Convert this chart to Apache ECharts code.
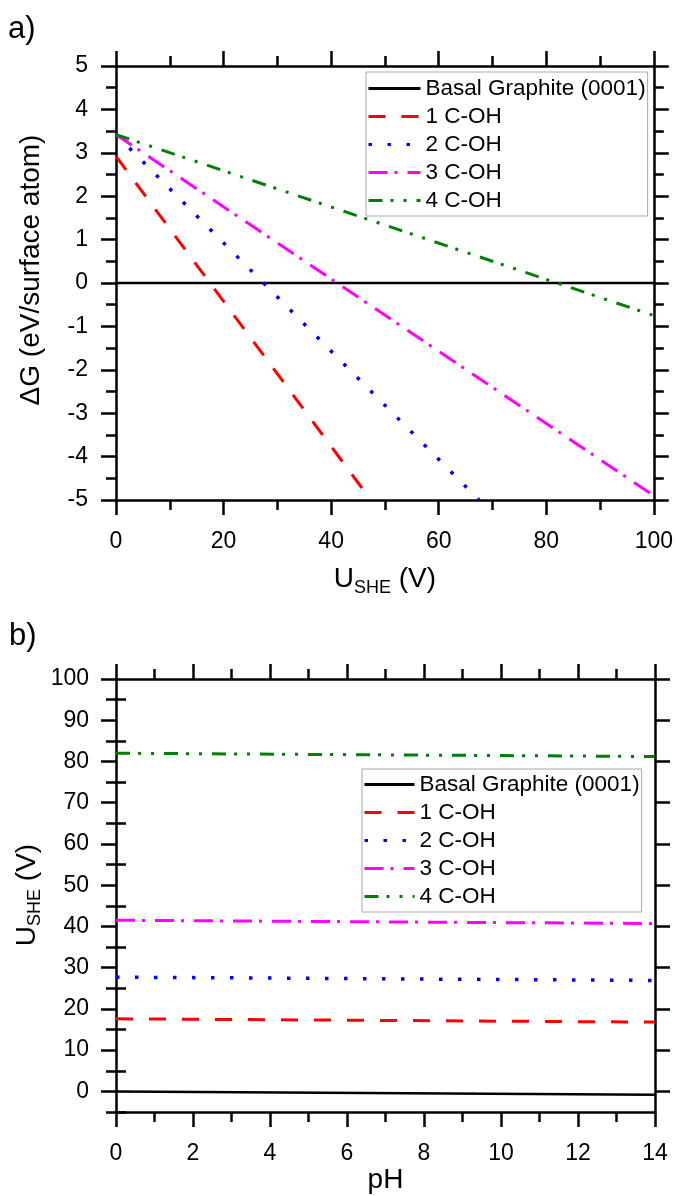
<!DOCTYPE html>
<html>
<head>
<meta charset="utf-8">
<script src="https://cdn.jsdelivr.net/npm/echarts@6/dist/echarts.min.js"></script>
<style>
html,body{margin:0;padding:0;background:#fff;}
#chart{width:676px;height:1196px;}
</style>
</head>
<body>
<div id="chart"></div>
<script>
// ---------- Data ----------
const seriesNames = ['Basal Graphite (0001)', '1 C-OH', '2 C-OH', '3 C-OH', '4 C-OH'];
const seriesColors = ['#000000', '#ff0000', '#0000ff', '#ff00ff', '#008000'];

// Panel a): ΔG (eV/surface atom) vs U_SHE (V)
const basalU = [0, 100];   const basalG = [0, 0];
const oh1U   = [0, 47.4];  const oh1G   = [2.92, -5];
const oh2U   = [0, 67.5];  const oh2G   = [3.42, -5];
const oh3U   = [0, 100];   const oh3G   = [3.42, -4.9];
const oh4U   = [0, 100];   const oh4G   = [3.42, -0.75];

// Panel b): U_SHE (V) vs pH
const pH       = [0, 14];
const basalUph = [0, -0.83];
const oh1Uph   = [17.6, 16.8];
const oh2Uph   = [27.7, 26.9];
const oh3Uph   = [41.5, 40.7];
const oh4Uph   = [82.0, 81.2];

// Tick labels
const xTicksA = [0, 20, 40, 60, 80, 100];
const yTicksA = [-5, -4, -3, -2, -1, 0, 1, 2, 3, 4, 5];
const xTicksB = [0, 2, 4, 6, 8, 10, 12, 14];
const yTicksB = [0, 10, 20, 30, 40, 50, 60, 70, 80, 90, 100];
const yMinorB = [-5, 5, 15, 25, 35, 45, 55, 65, 75, 85, 95];

// ---------- Styling ----------
const FONT = "'Liberation Sans', Arial, sans-serif";
const AX_W = 2.5;
const dashTypes = ['solid', [17, 16], [3.5, 15.5], [19, 7, 3, 10], [14, 8, 3, 10, 3, 10]];
const lineWidths = [2.5, 3, 3.5, 3, 3];

function zip(a, b) { return a.map((v, i) => [v, b[i]]); }

const chart = echarts.init(document.getElementById('chart'), null, {renderer: 'canvas'});

const axisLineStyle = {show: true, onZero: false, lineStyle: {color: '#000', width: AX_W}};
const tickStyle = {show: true, length: 15, lineStyle: {color: '#000', width: AX_W}};
const minorStyle = {show: true, splitNumber: 2, length: 10, lineStyle: {color: '#000', width: AX_W}};
const labelStyle = {color: '#000', fontSize: 23, fontFamily: FONT};

function xAx(grid, pos, min, max, interval, ticks, showLabel, extra) {
  return Object.assign({
    type: 'value', gridIndex: grid, position: pos, min: min, max: max, interval: interval,
    axisLine: axisLineStyle, axisTick: tickStyle, minorTick: minorStyle,
    splitLine: {show: false}, minorSplitLine: {show: false},
    axisLabel: Object.assign({show: showLabel, margin: 30,
      formatter: v => ticks.indexOf(v) >= 0 ? String(v) : ''}, labelStyle)
  }, extra || {});
}

const uName = '{u|U}{s|SHE}{u| (V)}';
const richName = {
  u: {fontSize: 28, fontFamily: FONT, color: '#000'},
  s: {fontSize: 18, fontFamily: FONT, color: '#000', padding: [17, 0, 0, 0]}
};

const legendCommon = {
  orient: 'vertical', itemHeight: 14, itemGap: 5,
  backgroundColor: '#fff', borderColor: '#a8a8a8', borderWidth: 1,
  textStyle: {fontSize: 22.5, fontFamily: FONT, color: '#000', lineHeight: 22},
  itemStyle: {opacity: 0, borderWidth: 0},
  lineStyle: {width: 3},
  selectedMode: false
};

const option = {
  animation: false,
  backgroundColor: '#fff',
  grid: [
    {left: 116, top: 66, width: 539, height: 434},
    {left: 116, top: 679, width: 539, height: 433}
  ],
  xAxis: [
    xAx(0, 'bottom', 0, 100, 20, xTicksA, true, {
      name: uName, nameLocation: 'middle', nameGap: 62,
      nameTextStyle: {rich: richName}
    }),
    xAx(0, 'top', 0, 100, 20, xTicksA, false),
    xAx(1, 'bottom', 0, 14, 2, xTicksB, true, {
      name: 'pH', nameLocation: 'middle', nameGap: 53,
      nameTextStyle: {fontSize: 28, fontFamily: FONT, color: '#000'}
    }),
    xAx(1, 'top', 0, 14, 2, xTicksB, false)
  ],
  yAxis: [
    {
      type: 'value', gridIndex: 0, position: 'left', min: -5, max: 5, interval: 1,
      axisLine: axisLineStyle, axisTick: tickStyle, minorTick: minorStyle,
      splitLine: {show: false}, minorSplitLine: {show: false},
      axisLabel: Object.assign({margin: 28, formatter: v => yTicksA.indexOf(v) >= 0 ? String(v) : ''}, labelStyle)
    },
    {
      type: 'value', gridIndex: 0, position: 'right', min: -5, max: 5, interval: 1,
      axisLine: axisLineStyle, axisTick: tickStyle, minorTick: minorStyle,
      splitLine: {show: false}, minorSplitLine: {show: false},
      axisLabel: {show: false}
    },
    {
      type: 'value', gridIndex: 1, position: 'left', min: -5, max: 100,
      axisLine: axisLineStyle,
      axisTick: Object.assign({customValues: yTicksB}, tickStyle),
      splitLine: {show: false},
      axisLabel: Object.assign({margin: 27, customValues: yTicksB}, labelStyle)
    },
    {
      type: 'value', gridIndex: 1, position: 'left', min: -5, max: 100,
      axisLine: {show: false},
      axisTick: Object.assign({}, tickStyle, {length: 10, customValues: yMinorB}),
      splitLine: {show: false},
      axisLabel: {show: false}
    },
    {
      type: 'value', gridIndex: 1, position: 'right', min: -5, max: 100,
      axisLine: axisLineStyle,
      axisTick: Object.assign({customValues: yTicksB}, tickStyle),
      splitLine: {show: false},
      axisLabel: {show: false}
    },
    {
      type: 'value', gridIndex: 1, position: 'right', min: -5, max: 100,
      axisLine: {show: false},
      axisTick: Object.assign({}, tickStyle, {length: 10, customValues: yMinorB}),
      splitLine: {show: false},
      axisLabel: {show: false}
    }
  ],
  legend: [
    Object.assign({}, legendCommon, {
      data: seriesNames, left: 366, top: 72, padding: [5, 2, 4, 1], itemWidth: 52
    }),
    Object.assign({}, legendCommon, {
      data: seriesNames, left: 362, top: 769, padding: [4, 2, 4, 1], itemWidth: 50
    })
  ],
  graphic: [
    {type: 'text', x: 8, y: 29, style: {text: 'a)', fontSize: 31, fontFamily: FONT, fill: '#000', verticalAlign: 'middle'}},
    {type: 'text', x: 9, y: 636, style: {text: 'b)', fontSize: 31, fontFamily: FONT, fill: '#000', verticalAlign: 'middle'}},
    {type: 'text', x: 31, y: 270, rotation: Math.PI / 2,
     style: {text: 'ΔG (eV/surface atom)', fontSize: 28, fontFamily: FONT, fill: '#000', align: 'center', verticalAlign: 'middle'}},
    {type: 'text', x: 27, y: 895, rotation: Math.PI / 2,
     style: {text: uName, rich: richName, fill: '#000', align: 'center', verticalAlign: 'middle'}}
  ],
  series: []
};

const topData = [zip(basalU, basalG), zip(oh1U, oh1G), zip(oh2U, oh2G), zip(oh3U, oh3G), zip(oh4U, oh4G)];
const botData = [zip(pH, basalUph), zip(pH, oh1Uph), zip(pH, oh2Uph), zip(pH, oh3Uph), zip(pH, oh4Uph)];

seriesNames.forEach((name, i) => {
  const ls = {color: seriesColors[i], width: lineWidths[i], type: dashTypes[i]};
  option.series.push({
    name: name, type: 'line', xAxisIndex: 0, yAxisIndex: 0, data: topData[i],
    symbol: 'none', lineStyle: ls, itemStyle: {color: seriesColors[i]}, clip: true
  });
  option.series.push({
    name: name, type: 'line', xAxisIndex: 2, yAxisIndex: 2, data: botData[i],
    symbol: 'none', lineStyle: ls, itemStyle: {color: seriesColors[i]}, clip: true
  });
});

chart.setOption(option);
</script>
</body>
</html>
